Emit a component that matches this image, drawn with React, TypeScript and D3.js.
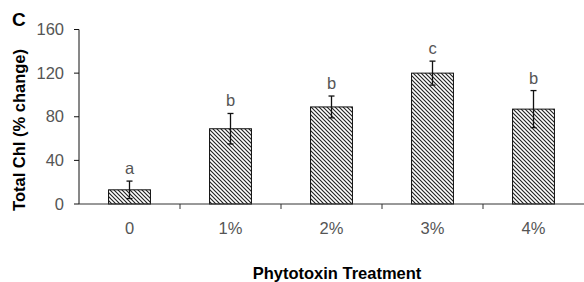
import React from 'react';
import * as d3 from 'd3';

// values
const treatments = ['0', '1%', '2%', '3%', '4%'];
const means = [13, 69, 89, 120, 87];
const errors = [8, 14, 10, 11, 17];
const letters = ['a', 'b', 'b', 'c', 'b'];
const yTicks = [0, 40, 80, 120, 160];

const W = 584;
const H = 282;
const font = '"Liberation Sans", Arial, sans-serif';

const App = () => {
  const x = d3.scaleBand<string>()
    .domain(treatments)
    .range([79, 584])
    .paddingInner(0.585)
    .paddingOuter(0.2925);

  const y = d3.scaleLinear().domain([0, 160]).range([204, 29.5]);

  const step = x.step();
  const bw = x.bandwidth();

  return (
    <svg width={W} height={H} style={{ position: 'absolute', left: 0, top: 0, background: '#fff' }}>
      <defs>
        <pattern id="hatch" patternUnits="userSpaceOnUse" width={4} height={4}>
          <rect width={4} height={4} fill="#fff" />
          <path d="M-1,-1 L5,5 M-1,3 L1,5 M3,-1 L5,1" stroke="#222" strokeWidth={1.15} />
        </pattern>
      </defs>

      {/* panel letter */}
      <text x={12} y={26} fontFamily={font} fontWeight="bold" fontSize={19} fill="#000">C</text>

      {/* y axis */}
      <line x1={79} x2={79} y1={y(160)} y2={y(0)} stroke="#111" strokeWidth={1} />
      {yTicks.map(t => (
        <g key={t}>
          <line x1={74} x2={79} y1={y(t)} y2={y(t)} stroke="#111" />
          <text x={64} y={y(t) + 5.5} textAnchor="end" fontFamily={font} fontSize={16.5} fill="#555">{t}</text>
        </g>
      ))}

      {/* bars */}
      {treatments.map((c, i) => (
        <rect key={c} x={x(c)} y={y(means[i])} width={bw} height={y(0) - y(means[i])}
          fill="url(#hatch)" stroke="#111" strokeWidth={1} />
      ))}

      {/* error bars + letters */}
      {treatments.map((c, i) => {
        const cx = (x(c) as number) + bw / 2;
        const top = y(means[i] + errors[i]);
        const bot = y(means[i] - errors[i]);
        return (
          <g key={c}>
            <line x1={cx} x2={cx} y1={top} y2={bot} stroke="#111" strokeWidth={1.3} />
            <line x1={cx - 3} x2={cx + 3} y1={top} y2={top} stroke="#111" strokeWidth={1.3} />
            <line x1={cx - 3} x2={cx + 3} y1={bot} y2={bot} stroke="#111" strokeWidth={1.3} />
            <text x={cx} y={top - 7} textAnchor="middle" fontFamily={font} fontSize={16.5} fill="#555">{letters[i]}</text>
          </g>
        );
      })}

      {/* x axis */}
      <line x1={79} x2={584} y1={y(0)} y2={y(0)} stroke="#333" strokeWidth={1} />
      {treatments.slice(1).map((c) => (
        <line key={c} x1={x(c)! - step * 0.2925} x2={x(c)! - step * 0.2925} y1={y(0)} y2={y(0) + 5} stroke="#333" />
      ))}
      {treatments.map(c => (
        <text key={c} x={(x(c) as number) + bw / 2} y={234} textAnchor="middle" fontFamily={font} fontSize={16.5} fill="#555">{c}</text>
      ))}

      {/* axis titles */}
      <text x={337} y={279} textAnchor="middle" fontFamily={font} fontWeight="bold" fontSize={16.5} fill="#000">Phytotoxin Treatment</text>
      <text transform={`translate(25,130) rotate(-90)`} textAnchor="middle" fontFamily={font} fontWeight="bold" fontSize={16.5} fill="#000">Total Chl (% change)</text>
    </svg>
  );
};

export default App;
